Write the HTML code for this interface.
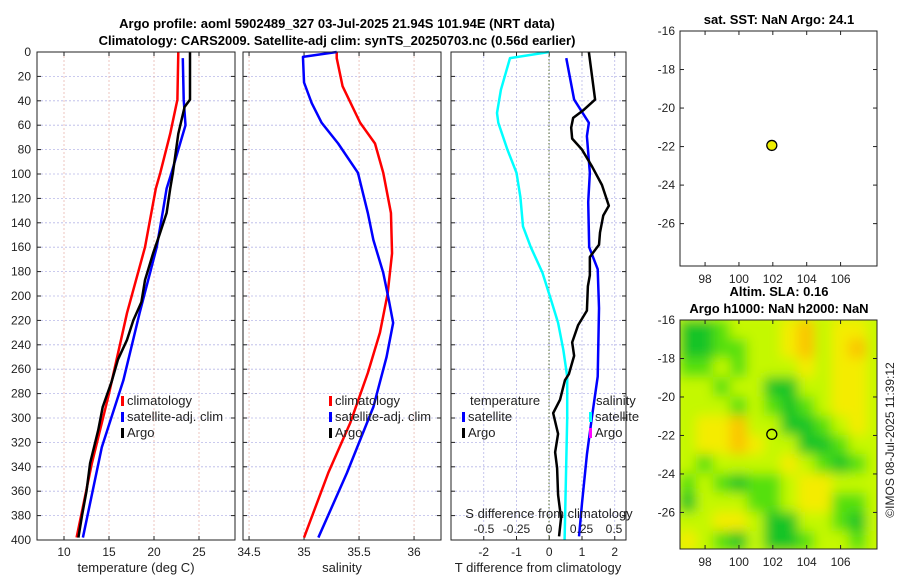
<!DOCTYPE html>
<html><head><meta charset="utf-8"><style>
html,body{margin:0;padding:0;background:#fff;}
svg{display:block;font-family:"Liberation Sans","DejaVu Sans",sans-serif;}
</style></head><body>
<svg id="c" width="900" height="580" viewBox="0 0 900 580" xmlns="http://www.w3.org/2000/svg">
<defs><filter id="bl" x="0" y="0" width="1" height="1"><feGaussianBlur stdDeviation="6"/></filter>
<clipPath id="mapclip"><rect x="680" y="320" width="197" height="229"/></clipPath></defs>
<text x="337" y="28" font-size="13" font-weight="bold" text-anchor="middle">Argo profile: aoml 5902489_327 03-Jul-2025 21.94S 101.94E (NRT data)</text>
<text x="337" y="45" font-size="13" font-weight="bold" text-anchor="middle">Climatology: CARS2009. Satellite-adj clim: synTS_20250703.nc (0.56d earlier)</text>
<text x="779" y="24" font-size="13" font-weight="bold" text-anchor="middle">sat. SST: NaN Argo: 24.1</text>
<text x="779" y="296" font-size="13" font-weight="bold" text-anchor="middle">Altim. SLA: 0.16</text>
<text x="779" y="313" font-size="13" font-weight="bold" text-anchor="middle">Argo h1000: NaN h2000: NaN</text>
<text transform="translate(894,440) rotate(-90)" font-size="12" text-anchor="middle" fill="#222">©IMOS 08-Jul-2025 11:39:12</text>
<g id="g"></g>
</svg>
<script>
// ---- data ----
const depthTicks=[0,20,40,60,80,100,120,140,160,180,200,220,240,260,280,300,320,340,360,380,400];
const tempTicks=[10,15,20,25];
const salTicks=[34.5,35,35.5,36];
const salTickLabels=["34.5","35","35.5","36"];
const tdTicks=[-2,-1,0,1,2];
const sdTicks=[-0.5,-0.25,0,0.25,0.5];
const sdTickLabels=["-0.5","-0.25","0","0.25","0.5"];
const tClimDepths=[0,39,67,99,112,160,214,280,337,398];
const tClim=[22.7,22.6,21.8,20.7,20.2,19.0,17.0,15.0,13.1,11.4];
const tArgoDepths=[0,39,45,67,99,112,132,150,165,187,205,220,236,252,270,291,310,337,360,380,398];
const tArgo=[24.0,24.0,23.4,22.7,22.1,21.8,21.4,20.6,19.9,19.0,18.6,17.7,17.0,16.0,15.3,14.3,13.8,12.9,12.5,12.0,11.6];
const tSatDepths=[5,39,60,80,99,112,130,160,214,269,324,398];
const tSat=[23.2,23.3,23.5,22.7,21.95,21.4,21.0,20.3,18.4,16.6,14.2,12.1];
const sClimDepths=[0,5,28,58,75,99,132,165,198,230,263,304,345,398];
const sClim=[35.297,35.297,35.35,35.51,35.645,35.72,35.79,35.8,35.76,35.69,35.58,35.42,35.22,35.0];
const sSatDepths=[0,4,25,42,58,75,99,132,154,181,203,222,250,291,345,398];
const sSat=[35.297,34.99,35.0,35.07,35.16,35.31,35.49,35.58,35.63,35.72,35.77,35.81,35.75,35.63,35.39,35.13];
const cyanDepths=[0,5,31,50,58,80,99,119,143,160,181,203,222,244,266,300,350,400];
const sDiffSat=[0,-0.3,-0.37,-0.4,-0.39,-0.32,-0.25,-0.22,-0.2,-0.14,-0.05,0.015,0.07,0.11,0.14,0.14,0.13,0.12];
const blueDDepths=[5,39,58,69,99,123,160,178,210,266,300,330,370,397];
const tDiffSat=[0.52,0.76,1.21,1.15,1.24,1.19,1.22,1.48,1.52,1.48,1.3,1.15,1.0,0.91];
const argoDDepths=[0,39,48,54,62,71,80,94,109,126,134,148,158,168,183,192,212,224,238,249,264,269,285,296,313,328,341,363,382,397];
const tDiffArgo=[1.21,1.4,1.03,0.73,0.67,0.7,1.0,1.31,1.61,1.82,1.65,1.55,1.52,1.24,1.24,1.18,1.15,0.88,0.7,0.76,0.6,0.48,0.33,0.12,0.27,0.18,0.24,0.27,0.36,0.3];
const mapLonTicks=[98,100,102,104,106];
const mapLatTicks=[-16,-18,-20,-22,-24,-26];
const argoLon=[101.94], argoLat=[-21.94];
const slaGrid=[
[1,1,2,3,3,3,4,5,3,4,4],
[1,1,2,2,3,3,4,5,3,4,5],
[2,2,3,2,3,3,3,4,3,4,4],
[3,3,2,3,3,1,1,3,3,4,4],
[3,3,3,2,3,2,1,2,3,4,4],
[3,4,4,5,3,3,1,1,2,3,4],
[3,4,4,5,4,3,3,1,1,2,3],
[3,2,3,3,3,3,4,3,2,1,2],
[2,3,2,1,2,2,3,4,4,3,3],
[1,3,3,3,2,2,3,4,4,2,2],
[3,3,4,4,3,1,1,3,3,2,1],
[4,3,2,1,3,1,1,2,3,3,2]];
// ---- helpers ----
const NS="http://www.w3.org/2000/svg";const G=document.getElementById('g');
function mk(t,a,p){const e=document.createElementNS(NS,t);for(const k in a)e.setAttribute(k,a[k]);(p||G).appendChild(e);return e;}
const Y0=52,Y1=540;const yD=d=>Y0+d*(Y1-Y0)/400;
const P1={x0:37,x1:235,v0:7,v1:29};const P2={x0:243,x1:441,v0:34.445,v1:36.245};const P3={x0:451,x1:626,v0:-3,v1:2.344};
const sx=(P,v)=>P.x0+(v-P.v0)*(P.x1-P.x0)/(P.v1-P.v0);
const sdx=v=>549+v*130;
function grid(P,ticks,vcol){
 depthTicks.forEach(d=>{const l=mk('line',{x1:P.x0,x2:P.x1,y1:yD(d),y2:yD(d),stroke:'#b8b8e8','stroke-width':0.8,'stroke-dasharray':'2,2'});
 
 });
 ticks.forEach(v=>{const x=sx(P,v);const l=mk('line',{x1:x,x2:x,y1:Y0,y2:Y1,stroke:vcol,'stroke-width':0.8,'stroke-dasharray':'2,2'});
 
 });
}
function frame(P,name){const r=mk('rect',{x:P.x0,y:Y0,width:P.x1-P.x0,height:Y1-Y0,fill:'none',stroke:'#222','stroke-width':1});
 
 }
function line(pts,col,w,name){const l=mk('polyline',{points:pts.map(p=>p.join(',')).join(' '),fill:'none',stroke:col,'stroke-width':w,'stroke-linejoin':'round'});
 
 }
function txt(x,y,s,o){const t=mk('text',Object.assign({x:x,y:y,'font-size':12,fill:'#222'},o||{}));t.textContent=s;return t;}
function xticks(P,ticks,labels,fn){ticks.forEach((v,i)=>{const x=fn(v);mk('line',{x1:x,x2:x,y1:Y1,y2:Y1-4,stroke:'#222'});mk('line',{x1:x,x2:x,y1:Y0,y2:Y0+4,stroke:'#222'});
 const t=txt(x,556,labels[i],{'text-anchor':'middle'});
 
 });}
grid(P1,tempTicks,'#e8b8b0');grid(P2,salTicks,'#e8b8b0');grid(P3,tdTicks,'#b8b8e8');
depthTicks.forEach(d=>{const t=txt(31,yD(d)+4,String(d),{'text-anchor':'end'});
 
 
 [P1,P2,P3].forEach(P=>{mk('line',{x1:P.x0,x2:P.x0+4,y1:yD(d),y2:yD(d),stroke:'#222'});mk('line',{x1:P.x1,x2:P.x1-4,y1:yD(d),y2:yD(d),stroke:'#222'});});});
xticks(P1,tempTicks,tempTicks.map(String),v=>sx(P1,v));
xticks(P2,salTicks,salTickLabels,v=>sx(P2,v));
xticks(P3,tdTicks,tdTicks.map(String),v=>sx(P3,v));
[["temperature (deg C)",136,'x-axis-title-temperature'],["salinity",342,'x-axis-title-salinity'],["T difference from climatology",538,'x-axis-title-tdiff']].forEach(a=>{const t=txt(a[1],572,a[0],{'text-anchor':'middle','font-size':13});
 
 });
const z=mk('line',{x1:549,x2:549,y1:Y0,y2:Y1,stroke:'#556b2f','stroke-width':1,'stroke-dasharray':'1.5,2'});


// series
line(tClimDepths.map((d,i)=>[sx(P1,tClim[i]),yD(d)]),'#f00',2.5,'temp-climatology-line');
line(tSatDepths.map((d,i)=>[sx(P1,tSat[i]),yD(d)]),'#00f',2.5,'temp-satellite-line');
line(tArgoDepths.map((d,i)=>[sx(P1,tArgo[i]),yD(d)]),'#000',2.5,'temp-argo-line');
line(sClimDepths.map((d,i)=>[sx(P2,sClim[i]),yD(d)]),'#f00',2.5,'sal-climatology-line');
line(sSatDepths.map((d,i)=>[sx(P2,sSat[i]),yD(d)]),'#00f',2.5,'sal-satellite-line');
line(cyanDepths.map((d,i)=>[sdx(sDiffSat[i]),yD(d)]),'#0ff',2.5,'sdiff-satellite-line');
line(blueDDepths.map((d,i)=>[sx(P3,tDiffSat[i]),yD(d)]),'#00f',2.5,'tdiff-satellite-line');
line(argoDDepths.map((d,i)=>[sx(P3,tDiffArgo[i]),yD(d)]),'#000',2.5,'tdiff-argo-line');
sdTicks.forEach((v,i)=>{const t=txt(sdx(v),533,sdTickLabels[i],{'text-anchor':'middle'});
 
 });
const sdt=txt(549,518,"S difference from climatology",{'text-anchor':'middle','font-size':13});


function leg(x,y,col,label,name){mk('rect',{x:x,y:y-9,width:3,height:10,fill:col});const t=txt(x+6,y,label,{'font-size':13});
 
 }
leg(121,405,'#f00','climatology','legend-climatology');leg(121,421,'#00f','satellite-adj. clim','legend-satellite');leg(121,437,'#000','Argo','legend-argo');
leg(329,405,'#f00','climatology','legend2-climatology');leg(329,421,'#00f','satellite-adj. clim','legend2-satellite');leg(329,437,'#000','Argo','legend2-argo');
const lt=txt(470,405,'temperature',{'font-size':13});
leg(462,421,'#00f','satellite','legend-t-satellite');leg(462,437,'#000','Argo','legend-t-argo');
const ls=txt(596,405,'salinity',{'font-size':13});
leg(589,421,'#0ff','satellite','legend-s-satellite');leg(589,437,'#f0f','Argo','legend-s-argo');
frame(P1,'temperature-panel');frame(P2,'salinity-panel');frame(P3,'difference-panel');
// maps
const M1={x0:680,x1:877,y0:31,y1:266,lon0:96.52,lon1:108.15,lat0:-16,lat1:-28.2};
const M2={x0:680,x1:877,y0:320,y1:549,lon0:96.52,lon1:108.15,lat0:-16,lat1:-27.9};
const mx=(M,v)=>M.x0+(v-M.lon0)*(M.x1-M.x0)/(M.lon1-M.lon0);
const my=(M,v)=>M.y0+(v-M.lat0)*(M.y1-M.y0)/(M.lat1-M.lat0);
const cmap=['#10b040','#18c428','#55e010','#c4f800','#f4ec00','#fbc400'];
const hg=mk('g',{'clip-path':'url(#mapclip)'});
const hb=mk('g',{filter:'url(#bl)'},hg);
mk('rect',{x:670,y:310,width:220,height:250,fill:'#c8f800'},hb);
slaGrid.forEach((row,r)=>row.forEach((v,c)=>{const x=mx(M2,96.5+c),y=my(M2,-16-r);
 const cell=mk('rect',{x:x-0.5,y:y-0.5,width:mx(M2,97.5+c)-x+1,height:my(M2,-17-r)-y+1,fill:cmap[v]},hb);
 
 }));
[M1,M2].forEach((M,k)=>{
 const r=mk('rect',{x:M.x0,y:M.y0,width:M.x1-M.x0,height:M.y1-M.y0,fill:'none',stroke:'#222'});
 
 
 mapLonTicks.forEach(v=>{const x=mx(M,v);mk('line',{x1:x,x2:x,y1:M.y1,y2:M.y1-4,stroke:'#222'});mk('line',{x1:x,x2:x,y1:M.y0,y2:M.y0+4,stroke:'#222'});
  const t=txt(x,M.y1+17,String(v),{'text-anchor':'middle'});
  
  });
 mapLatTicks.forEach(v=>{const y=my(M,v);mk('line',{x1:M.x0,x2:M.x0+4,y1:y,y2:y,stroke:'#222'});mk('line',{x1:M.x1,x2:M.x1-4,y1:y,y2:y,stroke:'#222'});
  const t=txt(M.x0-5,y+4,String(v),{'text-anchor':'end'});
  
  });
 argoLon.forEach((lo,i)=>{const c=mk('circle',{cx:mx(M,lo),cy:my(M,argoLat[i]),r:5,fill:k?'none':'#ee0',stroke:'#000','stroke-width':1.3});
  
  });
});
</script>
</body></html>
